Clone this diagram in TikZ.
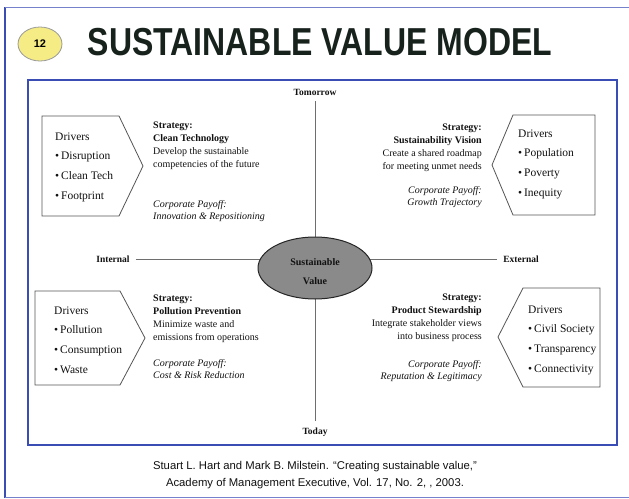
\documentclass[tikz,border=0pt]{standalone}
\usepackage{fontspec}
\setmainfont{Liberation Serif}
\newfontfamily\headfont{Liberation Sans}
\usetikzlibrary{shapes.geometric}

\definecolor{frameblue}{HTML}{3A4DB5}
\definecolor{badgefill}{HTML}{F5EC86}
\definecolor{ellgray}{HTML}{8A8A8A}
\definecolor{axisgray}{HTML}{6E6E6E}
\definecolor{boxgray}{HTML}{555555}
\definecolor{inkdark}{HTML}{111111}
\definecolor{titleink}{HTML}{17221D}

\tikzset{
  driverbox/.style={draw=boxgray, line width=0.8pt, line join=miter},
  axisline/.style={draw=axisgray, line width=0.7pt},
  axislabel/.style={font=\fontsize{9.5}{9.5}\selectfont\bfseries, text=inkdark, inner sep=6pt},
  drivertext/.style={font=\fontsize{11.5}{19.7}\selectfont, text=inkdark, align=left, inner sep=0pt},
  stratL/.style={font=\fontsize{10}{12.8}\selectfont, text=inkdark, align=left, inner sep=0pt, anchor=north west},
  stratR/.style={font=\fontsize{10}{12.8}\selectfont, text=inkdark, align=right, inner sep=0pt, anchor=north east},
}

\begin{document}
\begin{tikzpicture}[x=1pt, y=-1pt]
\useasboundingbox (0,0) rectangle (629,498);
\fill[white] (0,0) rectangle (629,498);

% page frame
\draw[frameblue, line width=1.8pt] (5,498) -- (5,7);
\draw[frameblue!70, line width=0.9pt] (5,7) -- (629,7);
\draw[frameblue!70, line width=0.9pt] (5,497) -- (629,497);

% slide number badge and heading
\node[ellipse, draw=gray!80, line width=0.8pt, fill=badgefill, minimum width=44pt, minimum height=34pt, inner sep=0pt]
  (badge) at (40,44) {\headfont\bfseries\fontsize{11}{11}\selectfont 12};
\node[text=titleink, inner sep=0pt] (title) at (320,42)
  {\scalebox{0.82}[1]{\headfont\bfseries\fontsize{39}{39}\selectfont SUSTAINABLE VALUE MODEL}};

% diagram frame
\draw[frameblue, line width=1.3pt] (28,80) rectangle (617,445);

% axes
\node[axislabel] (tom) at (315,92) {Tomorrow};
\node[axislabel] (today) at (315,432) {Today};
\node[axislabel] (int) at (113,259) {Internal};
\node[axislabel] (ext) at (521,259) {External};
\draw[axisline] (tom) -- (today);
\draw[axisline] (int) -- (ext);

% centre
\node[ellipse, draw=black!85, line width=1pt, fill=ellgray, minimum width=114pt, minimum height=62pt, inner sep=0pt]
  (sv) at (315,268) {};
\node[font=\fontsize{10}{19}\selectfont\bfseries, text=inkdark, align=center] (svtext) at (315,272)
  {Sustainable\\Value};

% driver boxes
\draw[driverbox] (42,116) -- (119,116) -- (143,166) -- (119,216) -- (42,216) -- cycle;
\draw[driverbox] (595,115) -- (513,115) -- (492,165) -- (513,215) -- (595,215) -- cycle;
\draw[driverbox] (35,291) -- (120,291) -- (145,338) -- (120,385) -- (35,385) -- cycle;
\draw[driverbox] (600,288) -- (523,288) -- (498,337) -- (523,387) -- (600,387) -- cycle;

\node[drivertext, anchor=north west] (drvTL) at (55,132.2)
  {Drivers\\\textbullet\,Disruption\\\textbullet\,Clean Tech\\\textbullet\,Footprint};
\node[drivertext, anchor=north west] (drvTR) at (518,129.2)
  {Drivers\\\textbullet\,Population\\\textbullet\,Poverty\\\textbullet\,Inequity};
\node[drivertext, anchor=north west] (drvBL) at (54,306.2)
  {Drivers\\\textbullet\,Pollution\\\textbullet\,Consumption\\\textbullet\,Waste};
\node[drivertext, anchor=north west] (drvBR) at (528,305.2)
  {Drivers\\\textbullet\,Civil Society\\\textbullet\,Transparency\\\textbullet\,Connectivity};

% strategies
\node[stratL] (stTL) at (153,121.8)
  {\textbf{Strategy:}\\\textbf{Clean Technology}\\Develop the sustainable\\competencies of the future};
\node[stratL] (payTL) at (153,199.8)
  {\textit{Corporate Payoff:}\\\textit{Innovation \& Repositioning}};

\node[stratR] (stTR) at (482,123.8)
  {\textbf{Strategy:}\\\textbf{Sustainability Vision}\\Create a shared roadmap\\for meeting unmet needs};
\node[stratR] (payTR) at (482,185.8)
  {\textit{Corporate Payoff:}\\\textit{Growth Trajectory}};

\node[stratL] (stBL) at (153,294.8)
  {\textbf{Strategy:}\\\textbf{Pollution Prevention}\\Minimize waste and\\emissions from operations};
\node[stratL] (payBL) at (153,358.8)
  {\textit{Corporate Payoff:}\\\textit{Cost \& Risk Reduction}};

\node[stratR] (stBR) at (482,293.8)
  {\textbf{Strategy:}\\\textbf{Product Stewardship}\\Integrate stakeholder views\\into business process};
\node[stratR] (payBR) at (482,359.8)
  {\textit{Corporate Payoff:}\\\textit{Reputation \& Legitimacy}};

% source
\node[font=\headfont\fontsize{11.3}{16.5}\selectfont, text=inkdark, align=center] (src) at (315,475)
  {Stuart L. Hart and Mark B. Milstein. \textquotedblleft Creating sustainable value,\textquotedblright\\
   Academy of Management Executive, Vol. 17, No. 2, , 2003.};
\end{tikzpicture}
\end{document}
